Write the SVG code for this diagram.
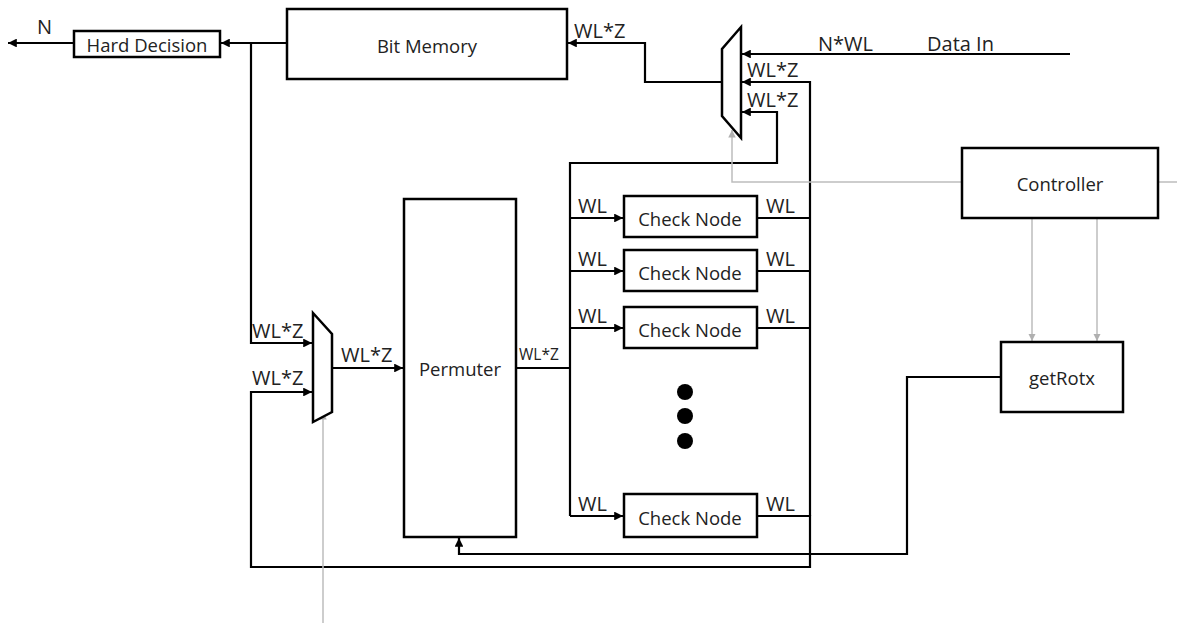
<svg xmlns="http://www.w3.org/2000/svg" width="1177" height="623" viewBox="0 0 1177 623">
<defs>
<marker id="ah" viewBox="0 0 10 10" refX="10" refY="5" markerWidth="4" markerHeight="4" orient="auto" markerUnits="strokeWidth"><path d="M0,0 L10,5 L0,10 z" fill="#000"/></marker>
<marker id="ahg" viewBox="0 0 10 10" refX="10" refY="5" markerWidth="5" markerHeight="5" orient="auto" markerUnits="strokeWidth"><path d="M0,0 L10,5 L0,10 z" fill="#b0b0b0"/></marker>
</defs>
<style>
.box{fill:#fff;stroke:#000;stroke-width:2.5}
.w{fill:none;stroke:#000;stroke-width:2.2}
.g{fill:none;stroke:#bdbdbd;stroke-width:1.5}
text{font-family:"Open Sans","Liberation Sans",sans-serif;fill:#222}
.t{font-size:18.5px;text-anchor:middle;dominant-baseline:central}
.l{font-size:20px}
.s{font-size:15.5px}
</style>
<rect width="1177" height="623" fill="#fff"/>
<g id="connectors">
<line class="w" x1="74" y1="43" x2="8" y2="43" marker-end="url(#ah)"/>
<line class="w" x1="287" y1="43" x2="221" y2="43" marker-end="url(#ah)"/>
<polyline class="w" points="251,43 251,343 312,343" marker-end="url(#ah)"/>
<line class="w" x1="1070" y1="54" x2="742" y2="54" marker-end="url(#ah)"/>
<polyline class="w" points="722,82 645,82 645,43 568,43" marker-end="url(#ah)"/>
<polyline class="w" points="810,218 810,82 742,82" marker-end="url(#ah)"/>
<polyline class="w" points="570,516 570,163 777,163 777,112 742,112" marker-end="url(#ah)"/>
<polyline class="w" points="757,516 810,516 810,567 251,567 251,392 312,392" marker-end="url(#ah)"/>
<line class="w" x1="810" y1="218" x2="810" y2="516"/>
<line class="w" x1="757" y1="218" x2="810" y2="218"/>
<line class="w" x1="757" y1="271" x2="810" y2="271"/>
<line class="w" x1="757" y1="328" x2="810" y2="328"/>
<line class="w" x1="332" y1="368" x2="403" y2="368" marker-end="url(#ah)"/>
<line class="w" x1="516" y1="368" x2="570" y2="368"/>
<line class="w" x1="570" y1="218" x2="623" y2="218" marker-end="url(#ah)"/>
<line class="w" x1="570" y1="271" x2="623" y2="271" marker-end="url(#ah)"/>
<line class="w" x1="570" y1="328" x2="623" y2="328" marker-end="url(#ah)"/>
<line class="w" x1="570" y1="516" x2="623" y2="516" marker-end="url(#ah)"/>
<polyline class="w" points="1001,377 907,377 907,554 459,554 459,538" marker-end="url(#ah)"/>
<polyline class="g" points="1177,182 1158,182"/>
<polyline class="g" points="962,182 732,182 732,130" marker-end="url(#ahg)"/>
<line class="g" x1="1032" y1="218" x2="1032" y2="341" marker-end="url(#ahg)"/>
<line class="g" x1="1097" y1="218" x2="1097" y2="341" marker-end="url(#ahg)"/>
<line class="g" x1="323" y1="623" x2="323" y2="412" marker-end="url(#ahg)"/>
</g>
<g id="labels">
<text class="l" x="37" y="34">N</text>
<text class="l" x="574" y="38">WL*Z</text>
<text class="l" x="818" y="51">N*WL</text>
<text class="l" x="927" y="51">Data In</text>
<text class="l" x="747" y="77">WL*Z</text>
<text class="l" x="747" y="107">WL*Z</text>
<text class="l" x="252" y="338">WL*Z</text>
<text class="l" x="252" y="385">WL*Z</text>
<text class="l" x="341" y="362">WL*Z</text>
<text class="s" x="519" y="360">WL*Z</text>
<text class="l" x="578" y="213">WL</text>
<text class="l" x="766" y="213">WL</text>
<text class="l" x="578" y="266">WL</text>
<text class="l" x="766" y="266">WL</text>
<text class="l" x="578" y="323">WL</text>
<text class="l" x="766" y="323">WL</text>
<text class="l" x="578" y="511">WL</text>
<text class="l" x="766" y="511">WL</text>
</g>
<g id="hard-decision"><rect class="box" x="74" y="31" width="146" height="26"/><text class="t" x="147" y="44">Hard Decision</text></g>
<g id="bit-memory"><rect class="box" x="287" y="9" width="280" height="70"/><text class="t" x="427" y="45">Bit Memory</text></g>
<g id="mux-top"><polygon class="box" points="741,27 741,138 722,116 722,49"/></g>
<g id="mux-left"><polygon class="box" points="313,313 332,334 332,412 313,422"/></g>
<g id="permuter"><rect class="box" x="404" y="199" width="112" height="338"/><text class="t" x="460" y="368">Permuter</text></g>
<g id="check-node-1"><rect class="box" x="624" y="196" width="133" height="41"/><text class="t" x="690" y="218">Check Node</text></g>
<g id="check-node-2"><rect class="box" x="624" y="250" width="133" height="41"/><text class="t" x="690" y="272">Check Node</text></g>
<g id="check-node-3"><rect class="box" x="624" y="307" width="133" height="41"/><text class="t" x="690" y="329">Check Node</text></g>
<g id="check-node-4"><rect class="box" x="624" y="494" width="133" height="43"/><text class="t" x="690" y="517">Check Node</text></g>
<g id="dots"><circle cx="685" cy="392" r="8"/><circle cx="685" cy="416" r="8"/><circle cx="685" cy="441" r="8"/></g>
<g id="controller"><rect class="box" x="962" y="148" width="196" height="70"/><text class="t" x="1060" y="183">Controller</text></g>
<g id="getrotx"><rect class="box" x="1001" y="342" width="122" height="70"/><text class="t" x="1062" y="377">getRotx</text></g>
</svg>
